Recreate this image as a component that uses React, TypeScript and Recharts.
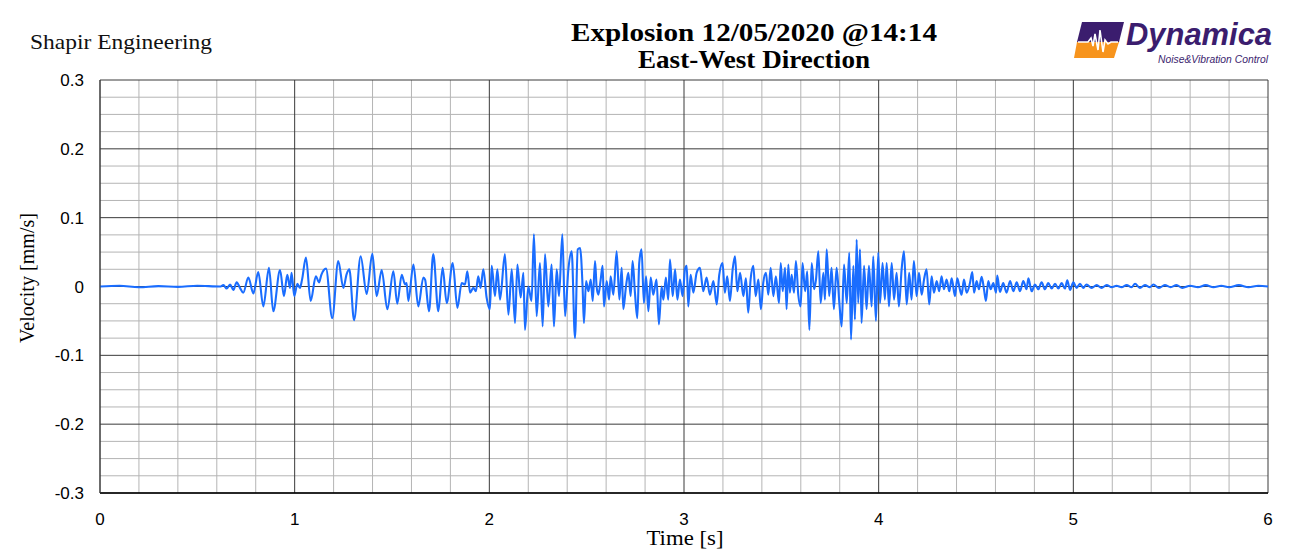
import React from 'react';
import { LineChart, Line, XAxis, YAxis, CartesianGrid } from 'recharts';

// ---- data: velocity record (time [s], velocity [mm/s]) ----
const quietStart: [number, number][] = [
  [0, 0], [0.1, 0.001], [0.2, -0.001], [0.3, 0.0005], [0.4, -0.0005], [0.5, 0.001], [0.617, 0],
];

const onsetPhase: [number, number][] = [
  [0.634, 0.002], [0.651, -0.003], [0.668, 0.003], [0.685, -0.005], [0.702, 0.006], [0.719, -0.002],
  [0.736, -0.009], [0.762, 0.013], [0.788, -0.01], [0.813, 0.021], [0.839, -0.029], [0.868, 0.027],
  [0.89, -0.036], [0.925, 0.024], [0.945, -0.014], [0.962, 0.017], [0.976, -0.002], [0.984, 0.02],
  [0.998, -0.014], [1.014, 0.004], [1.027, -0.002], [1.038, 0.01], [1.058, 0.042], [1.082, -0.021],
  [1.109, 0.015], [1.125, 0.006], [1.137, 0.017], [1.161, 0.026], [1.193, -0.046], [1.224, 0.037],
  [1.25, -0.002], [1.267, 0.018], [1.281, 0.025], [1.305, -0.049], [1.339, 0.044], [1.37, -0.011],
  [1.399, 0.048], [1.421, -0.014], [1.447, 0.024], [1.476, -0.033],
];

const buildUp: [number, number][] = [
  [1.507, 0.022], [1.527, -0.025], [1.55, 0.017], [1.567, 0.003], [1.575, 0.005], [1.584, -0.021],
  [1.61, 0.032], [1.635, -0.029], [1.661, 0.013], [1.67, 0.01], [1.69, -0.036], [1.712, 0.047],
  [1.738, -0.036], [1.76, 0.027], [1.781, -0.024], [1.812, 0.034], [1.836, -0.031], [1.858, 0.005],
  [1.875, 0.003], [1.887, 0.022], [1.901, -0.009], [1.918, -0.002], [1.931, -0.007], [1.943, 0.015],
  [1.955, -0.002], [1.969, 0.025], [1.986, -0.016], [2.003, -0.033], [2.012, 0.03], [2.029, -0.014],
  [2.041, 0.025], [2.055, -0.019], [2.08, 0.047], [2.098, -0.041], [2.115, 0.025], [2.132, -0.053],
  [2.144, 0.032], [2.161, -0.016], [2.175, 0.02], [2.183, -0.063], [2.2, 0.0], [2.217, -0.021],
  [2.229, 0.076], [2.243, -0.043], [2.26, 0.034], [2.274, -0.058], [2.286, 0.047], [2.303, -0.029],
  [2.32, 0.032], [2.332, -0.058], [2.346, 0.025], [2.358, -0.014], [2.375, 0.076], [2.389, -0.043],
  [2.406, 0.025], [2.423, 0.051], [2.44, -0.075], [2.454, 0.054],
];

const mainPhase: [number, number][] = [
  [2.466, 0.056], [2.479, 0.0], [2.486, -0.053], [2.497, 0.008], [2.509, -0.007], [2.521, 0.01],
  [2.531, -0.021], [2.543, 0.037], [2.551, 0.0], [2.56, -0.012], [2.572, 0.01], [2.582, 0.03],
  [2.589, -0.029], [2.603, 0.008], [2.615, -0.019], [2.623, 0.015], [2.637, -0.012], [2.654, 0.051],
  [2.668, -0.019], [2.68, 0.027], [2.688, -0.033], [2.702, 0.0], [2.714, 0.02], [2.726, -0.014],
  [2.736, 0.037], [2.748, -0.009], [2.76, -0.046], [2.77, 0.034], [2.782, 0.054], [2.794, -0.024],
  [2.805, 0.015], [2.817, -0.036], [2.829, 0.013], [2.842, -0.012], [2.859, 0.01], [2.871, -0.055],
  [2.885, 0.0], [2.894, -0.019], [2.907, 0.013], [2.919, -0.019], [2.928, 0.039], [2.942, -0.014],
  [2.954, 0.025], [2.966, -0.019], [2.979, 0.01], [2.993, -0.014], [3.005, 0.025], [3.014, 0.03],
  [3.022, -0.029], [3.034, 0.017], [3.048, -0.009], [3.065, 0.02], [3.082, 0.027], [3.099, -0.007],
  [3.116, 0.013], [3.133, -0.012], [3.151, 0.008], [3.168, -0.026], [3.181, 0.017], [3.198, 0.034],
  [3.21, -0.009], [3.222, 0.015], [3.236, -0.021], [3.25, 0.025], [3.262, 0.044], [3.274, -0.007],
  [3.288, 0.02], [3.305, -0.014], [3.318, 0.012], [3.33, -0.038], [3.342, 0.01], [3.356, 0.03],
  [3.368, -0.014], [3.382, 0.01], [3.395, -0.033], [3.407, 0.005], [3.421, 0.02], [3.433, -0.012],
  [3.445, 0.027], [3.459, -0.014], [3.472, 0.015], [3.488, -0.024],
];

const secondBurst: [number, number][] = [
  [3.497, 0.034], [3.507, -0.007], [3.519, 0.027], [3.527, -0.033], [3.536, 0.032], [3.544, -0.009],
  [3.553, 0.017], [3.565, -0.009], [3.575, 0.037], [3.587, -0.012], [3.599, -0.029], [3.609, 0.034],
  [3.622, -0.007], [3.633, 0.022], [3.644, -0.063], [3.656, 0.034], [3.668, -0.004], [3.678, 0.01],
  [3.69, 0.051], [3.702, -0.024], [3.716, 0.02], [3.724, -0.019], [3.733, 0.054], [3.746, -0.014],
  [3.758, 0.027], [3.77, -0.033], [3.784, 0.027], [3.798, -0.024], [3.81, -0.058], [3.822, 0.032],
  [3.836, -0.024], [3.849, 0.049], [3.858, -0.077], [3.87, 0.03], [3.878, -0.048], [3.887, 0.068],
  [3.895, -0.024], [3.904, 0.054], [3.912, -0.053], [3.925, 0.03], [3.938, -0.033], [3.95, 0.03],
  [3.964, -0.029], [3.972, 0.044], [3.986, -0.05], [3.998, 0.049], [4.007, -0.024], [4.02, 0.034],
  [4.032, -0.019], [4.041, 0.034], [4.053, -0.029], [4.067, 0.034], [4.079, -0.019], [4.092, 0.02],
  [4.104, -0.029], [4.118, 0.025], [4.13, 0.051], [4.144, -0.026], [4.157, 0.02], [4.169, -0.019],
  [4.181, 0.037], [4.195, -0.014], [4.207, 0.02], [4.221, -0.012], [4.233, 0.01], [4.246, 0.025],
  [4.26, -0.026], [4.272, 0.015], [4.284, -0.009], [4.298, 0.008], [4.311, -0.007], [4.323, 0.015],
  [4.335, -0.004], [4.349, 0.01], [4.363, -0.007], [4.375, 0.012], [4.392, -0.014], [4.404, 0.012],
  [4.417, -0.004],
];

const coda: [number, number][] = [
  [4.426, -0.012], [4.438, 0.01], [4.452, -0.009], [4.469, 0.005], [4.481, 0.021], [4.49, -0.009],
  [4.503, 0.008], [4.515, -0.004], [4.529, 0.014], [4.541, -0.004], [4.551, -0.021], [4.563, 0.008],
  [4.575, -0.004], [4.589, 0.005], [4.603, -0.009], [4.609, 0.016], [4.623, -0.008], [4.64, 0.005],
  [4.657, -0.009], [4.675, 0.008], [4.692, -0.007], [4.709, 0.006], [4.726, -0.007], [4.743, 0.008],
  [4.76, -0.004], [4.769, 0.012], [4.786, -0.007], [4.803, 0.003], [4.82, -0.004], [4.837, 0.006],
  [4.854, -0.004], [4.871, 0.005], [4.889, -0.003], [4.906, 0.004], [4.923, -0.003], [4.94, 0.005],
  [4.957, -0.003], [4.969, 0.009], [4.983, -0.005], [5.0, 0.006], [5.017, -0.002], [5.034, 0.004],
  [5.051, -0.002], [5.068, 0.003], [5.094, -0.002], [5.12, 0.002], [5.145, -0.002], [5.171, 0.002],
  [5.197, -0.001], [5.222, 0.001], [5.248, -0.001], [5.274, 0.002], [5.299, -0.001], [5.317, 0.004],
  [5.342, -0.002], [5.368, 0.002], [5.393, -0.001], [5.411, 0.003], [5.44, -0.002],
];

const quietEnd: [number, number][] = [
  [5.47, 0.002], [5.5, -0.001], [5.53, 0.002], [5.56, -0.002], [5.6, 0.001], [5.64, -0.001],
  [5.68, 0.002], [5.72, -0.001], [5.76, 0.001], [5.8, -0.001], [5.85, 0.002], [5.9, -0.001],
  [5.95, 0.001], [6.0, 0.0],
];

const xTicks = [0, 1, 2, 3, 4, 5, 6];
const yTicks = [-0.3, -0.2, -0.1, 0, 0.1, 0.2, 0.3];
const xMinor = [0.2, 0.4, 0.6, 0.8, 1.2, 1.4, 1.6, 1.8, 2.2, 2.4, 2.6, 2.8, 3.2, 3.4, 3.6, 3.8, 4.2, 4.4, 4.6, 4.8, 5.2, 5.4, 5.6, 5.8];
const yMinor = [
  -0.275, -0.25, -0.225, -0.175, -0.15, -0.125, -0.075, -0.05, -0.025,
  0.025, 0.05, 0.075, 0.125, 0.15, 0.175, 0.225, 0.25, 0.275,
];

const data = [...quietStart, ...onsetPhase, ...buildUp, ...mainPhase, ...secondBurst, ...coda, ...quietEnd].map(
  ([t, v]) => ({ t, v })
);

const fmtY = (v: number) => (Math.abs(v) < 1e-9 ? '0' : String(Math.round(v * 10) / 10));

export default function App() {
  return (
    <div style={{ position: 'relative', width: 1290, height: 549, margin: '-8px 0 0 -8px', background: '#fff' }}>
      <LineChart
        width={1290}
        height={549}
        data={data}
        margin={{ top: 80, right: 22, bottom: 26, left: 40 }}
      >
        <CartesianGrid
          stroke="#b4b4b4"
          strokeWidth={1}
          horizontalValues={yMinor}
          verticalValues={xMinor}
        />
        <CartesianGrid
          stroke="#3a3a3a"
          strokeWidth={1}
          horizontalValues={yTicks}
          verticalValues={xTicks}
        />
        <XAxis
          dataKey="t"
          type="number"
          domain={[0, 6]}
          ticks={xTicks}
          interval={0}
          height={30}
          tickLine={false}
          axisLine={{ stroke: '#000', strokeWidth: 1.5 }}
          tickMargin={14}
          tick={{ fill: '#000', fontSize: 17, fontFamily: 'Liberation Sans, Arial, sans-serif' }}
        />
        <YAxis
          type="number"
          domain={[-0.3, 0.3]}
          ticks={yTicks}
          interval={0}
          width={60}
          tickLine={false}
          axisLine={{ stroke: '#3a3a3a', strokeWidth: 1 }}
          tickMargin={10}
          tickFormatter={fmtY}
          tick={{ fill: '#000', fontSize: 17, fontFamily: 'Liberation Sans, Arial, sans-serif' }}
        />
        <Line
          type="monotone"
          dataKey="v"
          stroke="#1a6dff"
          strokeWidth={2.1}
          dot={false}
          isAnimationActive={false}
        />
      </LineChart>
      <svg
        width={1290}
        height={549}
        style={{ position: 'absolute', left: 0, top: 0, pointerEvents: 'none' }}
      >
        <rect x={4.5} y={-2} width={1282} height={553} fill="none" stroke="#8c8c8c" strokeWidth={1} />
        <text x={30} y={49} fontFamily="Liberation Serif, serif" fontSize={21} fill="#111" textLength={182} lengthAdjust="spacingAndGlyphs">
          Shapir Engineering
        </text>
        <text x={754} y={41} textAnchor="middle" fontFamily="Liberation Serif, serif" fontWeight="bold" fontSize={25} fill="#000" textLength={366} lengthAdjust="spacingAndGlyphs">
          Explosion 12/05/2020 @14:14
        </text>
        <text x={754} y={68} textAnchor="middle" fontFamily="Liberation Serif, serif" fontWeight="bold" fontSize={25} fill="#000" textLength={232} lengthAdjust="spacingAndGlyphs">
          East-West Direction
        </text>
        <text
          transform="translate(34,278) rotate(-90)"
          textAnchor="middle"
          fontFamily="Liberation Serif, serif"
          fontSize={20}
          fill="#000"
          textLength={130}
          lengthAdjust="spacingAndGlyphs"
        >
          Velocity  [mm/s]
        </text>
        <text x={685} y={545} textAnchor="middle" fontFamily="Liberation Serif, serif" fontSize={20} fill="#000" textLength={77} lengthAdjust="spacingAndGlyphs">
          Time [s]
        </text>
        {/* logo */}
        <g>
          <polygon points="1082,22 1124,22 1119,42 1077,42" fill="#3b1d6e" />
          <polygon points="1077,42 1119,42 1114,58 1074,58" fill="#f7941d" />
          <polyline
            points="1078,42 1088,42 1091,38 1093,46 1095,34 1098,50 1100,30 1103,52 1105,40 1108,44 1111,42 1118,42"
            fill="none"
            stroke="#fff"
            strokeWidth={1.6}
          />
          <text x={1126} y={45} fontFamily="Liberation Sans, Arial, sans-serif" fontWeight="bold" fontStyle="italic" fontSize={32} fill="#3b1d6e" textLength={146} lengthAdjust="spacingAndGlyphs">
            Dynamica
          </text>
          <text x={1158} y={62.5} fontFamily="Liberation Sans, Arial, sans-serif" fontStyle="italic" fontSize={10.5} fill="#3b1d6e" textLength={110} lengthAdjust="spacingAndGlyphs">
            Noise&amp;Vibration Control
          </text>
        </g>
      </svg>
    </div>
  );
}
